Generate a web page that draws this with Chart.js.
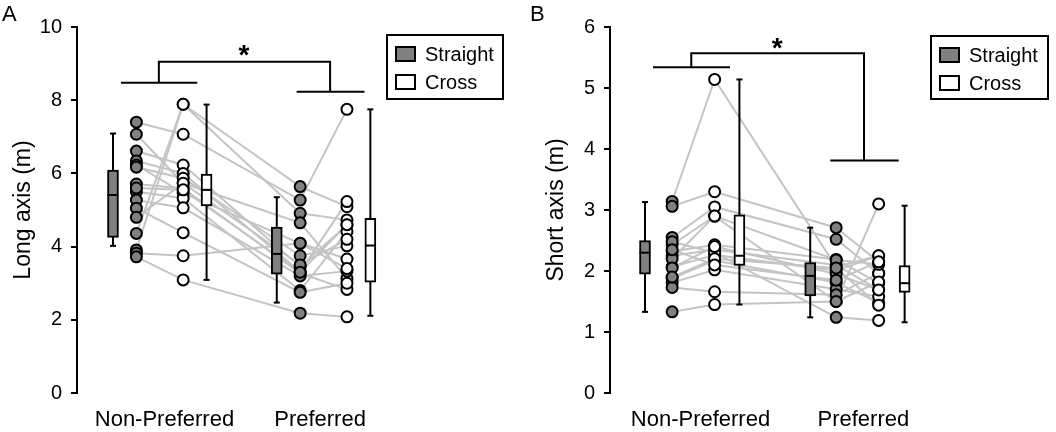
<!DOCTYPE html>
<html>
<head>
<meta charset="utf-8">
<script src="https://cdn.jsdelivr.net/npm/chart.js@4"></script>
<style>
  body { margin: 0; background: #fff; }
  #wrap { display: flex; width: 1056px; height: 432px; }
  .pane { width: 528px; height: 432px; }
</style>
</head>
<body>
<div id="wrap">
  <div class="pane"><canvas id="chartA" width="528" height="432"></canvas></div>
  <div class="pane"><canvas id="chartB" width="528" height="432"></canvas></div>
</div>
<script>
Chart.defaults.font.family = '"Liberation Sans", Arial, sans-serif';
Chart.defaults.color = '#000';

var groups = ['Non-Preferred', 'Preferred'];
var conditions = ['Straight', 'Cross'];

// panel A - long axis (m), one value per participant
var longNPStraight = [4.36, 3.91, 7.40, 7.07, 6.61, 6.34, 6.23, 6.17, 5.71, 5.50, 5.27, 5.05, 4.80, 3.82, 3.72, 5.60];
var longNPCross    = [7.89, 7.89, 7.07, 5.73, 6.23, 6.00, 5.46, 5.87, 5.59, 5.32, 5.06, 4.38, 5.73, 3.75, 3.09, 5.55];
var longPStraight  = [5.64, 4.91, 5.27, 4.65, 3.45, 3.31, 4.09, 3.75, 3.27, 2.80, 3.20, 2.75, 3.50, 4.09, 2.18, 3.30];
var longPCross     = [5.09, 4.73, 7.75, 3.13, 4.59, 5.23, 3.66, 4.02, 2.83, 4.41, 3.33, 3.00, 4.20, 3.40, 2.08, 4.60];
// box plots: NP straight, NP cross, P straight, P cross
var longBoxMin = [4.02, 3.09, 2.47, 2.11];
var longBoxQ1  = [4.25, 5.11, 3.25, 3.03];
var longBoxMed = [5.41, 5.55, 3.80, 4.03];
var longBoxQ3  = [6.09, 5.98, 4.53, 4.77];
var longBoxMax = [7.09, 7.88, 5.35, 7.75];
var longBracket = [8.48, 9.05, 8.23]; // left bar, top, right bar
var longStar = 9.37;

// panel B - short axis (m)
var shortNPStraight = [3.14, 3.06, 2.55, 2.43, 2.32, 2.25, 2.07, 1.88, 1.81, 1.73, 1.33, 2.48, 2.20, 2.05, 1.90, 2.35];
var shortNPCross    = [5.14, 3.30, 3.05, 2.90, 2.43, 2.35, 2.26, 2.17, 2.02, 1.66, 1.45, 2.30, 2.90, 2.40, 2.20, 2.10];
var shortPStraight  = [2.07, 2.71, 2.52, 1.50, 2.19, 2.10, 2.01, 1.81, 1.70, 1.61, 1.50, 1.24, 2.18, 1.95, 2.05, 1.85];
var shortPCross     = [2.25, 2.15, 1.96, 3.10, 1.80, 1.69, 2.25, 1.48, 1.58, 1.96, 1.82, 1.19, 2.11, 1.69, 1.44, 2.15];
var shortBoxMin = [1.33, 1.45, 1.24, 1.16];
var shortBoxQ1  = [1.95, 2.09, 1.59, 1.65];
var shortBoxMed = [2.30, 2.25, 1.92, 1.80];
var shortBoxQ3  = [2.50, 2.92, 2.14, 2.09];
var shortBoxMax = [3.13, 5.14, 2.71, 3.07];
var shortBracket = [5.34, 5.57, 3.81];
var shortStar = 5.74;

var GRAY = '#808080';
var LINE_GRAY = '#c4c4c4';

// x positions (in column units): box, pts, pts, box | box, pts, pts, box
var panels = [
  {
    id: 'chartA', letter: 'A', title: 'Long axis (m)', max: 10, step: 2,
    npS: longNPStraight, npC: longNPCross, pS: longPStraight, pC: longPCross,
    min: longBoxMin, q1: longBoxQ1, med: longBoxMed, q3: longBoxQ3, max2: longBoxMax,
    bracket: longBracket, star: longStar,
    x: [0, 1, 3, 4, 7, 8, 10, 11], xMin: -1.538, xMax: 17.31,
    leftPx: 77, padLeft: 10, labelsAt: [2.2, 8.85],
    legend: { x: 387, y: 35, w: 116, h: 64 }
  },
  {
    id: 'chartB', letter: 'B', title: 'Short axis (m)', max: 6, step: 1,
    npS: shortNPStraight, npC: shortNPCross, pS: shortPStraight, pC: shortPCross,
    min: shortBoxMin, q1: shortBoxQ1, med: shortBoxMed, q3: shortBoxQ3, max2: shortBoxMax,
    bracket: shortBracket, star: shortStar,
    x: [0, 1.15, 2.95, 4, 7, 8.1, 9.9, 11], xMin: -1.483, xMax: 16.99,
    leftPx: 82, padLeft: 15, labelsAt: [2.35, 9.25],
    legend: { x: 403, y: 36, w: 117, h: 63 }
  }
];

var bracketX = [0.34, 3.6, 1.96, 9.28, 7.85, 10.75];
var starX = 5.6;

function buildDatasets(p) {
  var ds = [];
  var cols = [p.npS, p.npC, p.pS, p.pC];
  var ptX = [p.x[1], p.x[2], p.x[5], p.x[6]];
  var boxX = [p.x[0], p.x[3], p.x[4], p.x[7]];
  var fills = [GRAY, '#fff', GRAY, '#fff'];

  // individual points
  cols.forEach(function(vals, c) {
    ds.push({
      type: 'scatter', order: 0,
      data: vals.map(function(v) { return { x: ptX[c], y: v }; }),
      pointRadius: 5.5, pointBackgroundColor: fills[c],
      pointBorderColor: '#000', pointBorderWidth: 2
    });
  });

  // medians
  ds.push({
    type: 'scatter', order: 1,
    data: boxX.map(function(x, i) { return { x: x, y: p.med[i] }; }),
    pointStyle: 'line', pointRadius: 5.5, pointBorderWidth: 2, pointBorderColor: '#000'
  });

  // boxes
  ds.push({
    type: 'bar', order: 2,
    data: boxX.map(function(x, i) { return { x: x, y: [p.q1[i], p.q3[i]] }; }),
    backgroundColor: fills, borderColor: '#000', borderWidth: 2,
    borderSkipped: false, barThickness: 11, grouped: false
  });

  // whiskers with caps
  boxX.forEach(function(x, i) {
    ds.push({
      type: 'line', order: 3,
      data: [{ x: x, y: p.min[i] }, { x: x, y: p.max2[i] }],
      borderColor: '#000', borderWidth: 2,
      pointStyle: 'line', pointRadius: 3, pointBorderWidth: 2, pointBorderColor: '#000'
    });
  });

  // paired lines per participant
  for (var s = 0; s < p.npS.length; s++) {
    ds.push({
      type: 'line', order: 4,
      data: cols.map(function(vals, c) { return { x: ptX[c], y: vals[s] }; }),
      borderColor: LINE_GRAY, borderWidth: 2, pointRadius: 0
    });
  }

  // significance bracket
  var b = p.bracket;
  var pieces = [
    [{ x: bracketX[0], y: b[0] }, { x: bracketX[1], y: b[0] }],
    [{ x: bracketX[2], y: b[0] }, { x: bracketX[2], y: b[1] }, { x: bracketX[3], y: b[1] }, { x: bracketX[3], y: b[2] }],
    [{ x: bracketX[4], y: b[2] }, { x: bracketX[5], y: b[2] }]
  ];
  pieces.forEach(function(pts) {
    ds.push({ type: 'line', order: 5, data: pts, borderColor: '#000', borderWidth: 2, pointRadius: 0 });
  });
  return ds;
}

function annotate(p) {
  return {
    id: 'annotate',
    afterDraw: function(chart) {
      var ctx = chart.ctx, xs = chart.scales.x, ys = chart.scales.y;
      ctx.save();
      ctx.fillStyle = '#000';
      ctx.font = 'bold 28px "Liberation Sans"';
      ctx.textAlign = 'center';
      ctx.textBaseline = 'middle';
      ctx.fillText('*', xs.getPixelForValue(starX), ys.getPixelForValue(p.star) + 6);

      ctx.font = '22px "Liberation Sans"';
      ctx.textAlign = 'left';
      ctx.textBaseline = 'top';
      ctx.fillText(p.letter, 2, 4);

      var L = p.legend;
      ctx.lineWidth = 2;
      ctx.strokeStyle = '#000';
      ctx.strokeRect(L.x, L.y, L.w, L.h);
      ctx.font = '20px "Liberation Sans"';
      ctx.textBaseline = 'middle';
      conditions.forEach(function(name, i) {
        var y = L.y + 12 + i * 28;
        ctx.fillStyle = i === 0 ? GRAY : '#fff';
        ctx.fillRect(L.x + 9, y, 19, 14);
        ctx.strokeRect(L.x + 9, y, 19, 14);
        ctx.fillStyle = '#000';
        ctx.fillText(name, L.x + 38, y + 8);
      });
      ctx.restore();
    }
  };
}

panels.forEach(function(p) {
  new Chart(document.getElementById(p.id), {
    type: 'scatter',
    data: { datasets: buildDatasets(p) },
    options: {
      responsive: false,
      animation: false,
      events: [],
      layout: { padding: { left: p.padLeft, top: 27, right: 10, bottom: 0 } },
      plugins: { legend: { display: false }, tooltip: { enabled: false } },
      scales: {
        x: {
          type: 'linear', min: p.xMin, max: p.xMax, offset: false,
          grid: { display: false, drawTicks: false },
          border: { display: false },
          ticks: {
            font: { size: 22 }, padding: 14, autoSkip: false, maxRotation: 0,
            callback: function(v, i) { return groups[i]; }
          },
          afterBuildTicks: function(s) { s.ticks = p.labelsAt.map(function(v) { return { value: v }; }); },
          afterFit: function(s) { s.height = 39; }
        },
        y: {
          min: 0, max: p.max,
          ticks: { stepSize: p.step, font: { size: 20 }, padding: 9 },
          grid: { drawOnChartArea: false, drawTicks: true, tickLength: 6, color: '#000', lineWidth: 2 },
          border: { display: true, color: '#000', width: 2 },
          title: { display: true, text: p.title, font: { size: 23 }, padding: { top: 0, bottom: 4 } },
          afterFit: function(s) { s.width = p.leftPx - p.padLeft; }
        }
      }
    },
    plugins: [annotate(p)]
  });
});
</script>
</body>
</html>
